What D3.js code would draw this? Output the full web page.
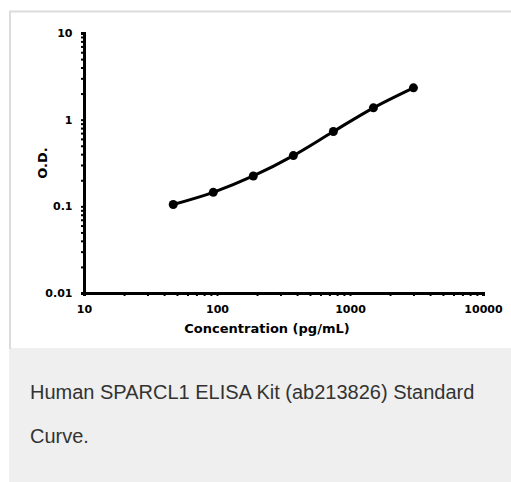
<!DOCTYPE html>
<html><head><meta charset="utf-8">
<script src="https://cdn.jsdelivr.net/npm/d3@7"></script>
<style>
html,body{margin:0;padding:0;background:#fff;}
svg{display:block;}
</style></head>
<body>
<svg id="c" width="511" height="482"></svg>
<script>
const concentrations = [46.875, 93.75, 187.5, 375, 750, 1500, 3000];
const odValues = [0.105, 0.145, 0.224, 0.385, 0.73, 1.37, 2.33];
const xTickLabels = [10, 100, 1000, 10000];
const yTickLabels = [0.01, 0.1, 1, 10];
const xTitle = "Concentration (pg/mL)";
const yTitle = "O.D.";
const captionLines = ["Human SPARCL1 ELISA Kit (ab213826) Standard", "Curve."];

const svg = d3.select("#c");
// frame
svg.append("rect").attr("x",10).attr("y",11.5).attr("width",520).attr("height",338)
  .attr("fill","#fff").attr("stroke","#dcdcdc").attr("stroke-width",2);
svg.append("rect").attr("x",9).attr("y",349).attr("width",510).attr("height",140).attr("fill","#eeefee");

const x = d3.scaleLog().domain([10,10000]).range([84,483]);
const y = d3.scaleLog().domain([0.01,10]).range([293,33]);
const font = "'DejaVu Sans', sans-serif";

function minorVals(dom){
  const out=[];
  for(let d=dom[0]; d<dom[1]; d*=10){ for(let k=1;k<10;k++) out.push(d*k); }
  out.push(dom[1]); return out;
}
const xAxis = d3.axisBottom(x).tickValues(minorVals([10,10000])).tickSize(3).tickFormat(d=>xTickLabels.includes(d)?String(d):"");
const yAxis = d3.axisLeft(y).tickValues(minorVals([0.01,10])).tickSize(3).tickFormat(d=>yTickLabels.includes(+d.toPrecision(3))?String(+d.toPrecision(3)):"");

const gx = svg.append("g").attr("transform","translate(0,293)").call(xAxis);
gx.select(".domain").attr("stroke","#000").attr("stroke-width",3);
gx.selectAll(".tick line").attr("stroke","#000").attr("stroke-width",2);
gx.selectAll("text").attr("font-family",font).attr("font-weight","bold").attr("font-size",11).attr("fill","#000").attr("dy","1.3em");

const gy = svg.append("g").attr("transform","translate(84,0)").call(yAxis);
gy.select(".domain").attr("stroke","#000").attr("stroke-width",3);
gy.selectAll(".tick line").attr("stroke","#000").attr("stroke-width",2);
gy.selectAll("text").attr("font-family",font).attr("font-weight","bold").attr("font-size",11).attr("fill","#000").attr("dx","-0.5em");

svg.append("text").attr("x",267).attr("y",333).attr("text-anchor","middle")
  .attr("font-family",font).attr("font-weight","bold").attr("font-size",13).text(xTitle);
svg.append("text").attr("transform","translate(47,163) rotate(-90)").attr("text-anchor","middle")
  .attr("font-family",font).attr("font-weight","bold").attr("font-size",13).text(yTitle);

const data = concentrations.map((c,i)=>({c, v:odValues[i]}));
const line = d3.line().x(d=>x(d.c)).y(d=>y(d.v)).curve(d3.curveMonotoneX);
svg.append("path").datum(data).attr("d",line).attr("fill","none").attr("stroke","#000").attr("stroke-width",3);
svg.selectAll("circle.pt").data(data).enter().append("circle").attr("class","pt")
  .attr("cx",d=>x(d.c)).attr("cy",d=>y(d.v)).attr("r",4.5).attr("fill","#000");

svg.selectAll("text.cap").data(captionLines).enter().append("text").attr("class","cap")
  .attr("x",30).attr("y",(d,i)=>399+i*44).attr("font-family","'Liberation Sans', Arial, sans-serif")
  .attr("font-size",20).attr("fill","#333").text(d=>d);
</script>
</body></html>
